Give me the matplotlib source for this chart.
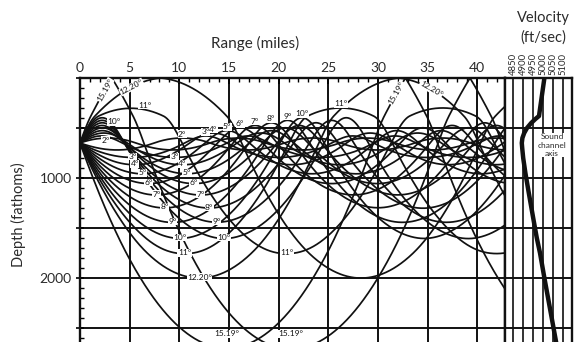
import numpy as np
import matplotlib.pyplot as plt

# Sound-speed profile: depth (fathoms) and speed (ft/sec)
profile_depth = [0, 380, 410, 450, 500, 550, 600, 650, 700, 800, 950, 1150, 1400, 1600, 1750, 2000, 2700, 3200]
profile_speed = [5007, 4980, 4962, 4941, 4920, 4906, 4897, 4894, 4896, 4901, 4912, 4929, 4951, 4969, 4985, 5007, 5071, 5116]

source_depth = 650
launch_angles = [2, 3, 4, 5, 6, 7, 8, 9, 10, 11, 12.20, 15.19]

range_ticks = [0, 5, 10, 15, 20, 25, 30, 35, 40]
depth_grid = [0, 500, 1000, 1500, 2000, 2500]
depth_labels = ["", "", "1000", "", "2000", ""]
velocity_ticks = [4850, 4900, 4950, 5000, 5050, 5100]

FATHOMS_PER_MILE = 1012.7   # nautical mile
X_MAX = 42.8
Y_MAX = 2640
INK = "#111111"
TXT = "#2b2b2b"

plt.rcParams["font.family"] = ["Lato", "DejaVu Sans"]


def angle_text(a):
    return "12.20°" if a == 12.20 else ("15.19°" if a == 15.19 else f"{a:g}°")


def trace(angles_deg, ds=8.0, max_range=44.0):
    """Trace rays through the layered profile; positive angles point down."""
    zn = np.array(profile_depth, float)
    cn = np.array(profile_speed, float)
    slope = np.diff(cn) / np.diff(zn)

    def speed(z):
        return np.interp(z, zn, cn)

    def grad(z):
        i = np.clip(np.searchsorted(zn, z) - 1, 0, len(slope) - 1)
        return slope[i]

    th = np.radians(np.asarray(angles_deg, float))
    c0 = speed(source_depth)
    xi = np.cos(th) / c0
    zeta = np.sin(th) / c0
    x = np.zeros_like(th)
    z = np.full_like(th, float(source_depth))
    xs, zs = [x.copy()], [z.copy()]
    while x.min() < max_range * FATHOMS_PER_MILE:
        c = speed(z)
        zm = z + 0.5 * ds * c * zeta
        zetam = zeta - 0.5 * ds * grad(z) / c ** 2
        cm = speed(zm)
        x = x + ds * cm * xi
        z = z + ds * cm * zetam
        zeta = zeta - ds * grad(zm) / cm ** 2
        # reflection at the sea surface
        hit = z < 0
        z[hit] = -z[hit]
        zeta[hit] = -zeta[hit]
        xs.append(x.copy())
        zs.append(z.copy())
    return np.array(xs).T / FATHOMS_PER_MILE, np.array(zs).T


def turns(z, lower=True):
    d = np.sign(np.diff(z))
    if lower:
        idx = np.where((d[:-1] > 0) & (d[1:] <= 0))[0]
    else:
        idx = np.where((d[:-1] < 0) & (d[1:] >= 0))[0]
    return idx + 1


up_x, up_z = trace([-a for a in launch_angles])
dn_x, dn_z = trace(launch_angles)

fig = plt.figure(figsize=(5.83, 3.42), dpi=100)
top = 1 - 78 / 342
ax = fig.add_axes([80 / 583, 0, 425 / 583, top])
axv = fig.add_axes([505 / 583, 0, 67 / 583, top])

for a in (ax, axv):
    a.set_ylim(Y_MAX, 0)
    for y in depth_grid[1:]:
        a.axhline(y, color=INK, lw=1.4, zorder=1)
    for s in ("top", "left", "right"):
        a.spines[s].set_linewidth(1.7)
        a.spines[s].set_color(INK)
    a.spines["bottom"].set_visible(False)

# ray panel
ax.set_xlim(0, X_MAX)
for xg in range_ticks[1:]:
    ax.axvline(xg, color=INK, lw=1.4, zorder=1)
for xm, zm in zip(up_x, up_z):
    ax.plot(xm, zm, color=INK, lw=1.25, zorder=2)
for xm, zm in zip(dn_x, dn_z):
    ax.plot(xm, zm, color=INK, lw=1.25, zorder=2)

ax.xaxis.tick_top()
ax.set_xticks(range_ticks)
ax.set_xticks(np.arange(0, 43, 1), minor=True)
ax.tick_params(axis="x", which="major", direction="in", length=4, width=1.2,
               labelsize=10, labelcolor=TXT, pad=3)
ax.tick_params(axis="x", which="minor", direction="in", length=3, width=1)
ax.set_yticks(depth_grid)
ax.set_yticklabels(depth_labels)
ax.set_yticks(np.arange(0, 2700, 100), minor=True)
ax.tick_params(axis="y", which="major", direction="inout", length=6, width=1.2,
               labelsize=10, labelcolor=TXT, pad=3)
ax.tick_params(axis="y", which="minor", direction="in", length=3, width=1)
ax.tick_params(bottom=False, labelbottom=False)

box = dict(facecolor="white", edgecolor="none", pad=0.3)
lab = dict(fontsize=6, color=INK, ha="center", zorder=4, bbox=box)


def slope_angle(xm, zm, i):
    p = ax.transData.transform(np.c_[xm[i - 3:i + 4:6], zm[i - 3:i + 4:6]])
    d = p[1] - p[0]
    return np.degrees(np.arctan2(d[1], d[0]))


def on_ray(xm, zm, a, i, rotate=True):
    rot = slope_angle(xm, zm, i) if rotate else 0
    ax.text(xm[i], zm[i], angle_text(a), va="center", rotation=rot,
            rotation_mode="anchor", **lab)


def crossing(xm, zm, depth, rising=True, after=0.0):
    d = np.diff(zm)
    ok = (d < 0) if rising else (d > 0)
    cand = np.where(ok & (xm[1:] > after) &
                    (np.sign(zm[:-1] - depth) != np.sign(zm[1:] - depth)))[0]
    return cand[0] + 1


for k, a in enumerate(launch_angles):
    # lower turning points of both launches
    for which, xs_, zs_ in (("dn", dn_x[k], dn_z[k]), ("up", up_x[k], up_z[k])):
        lo = turns(zs_, lower=True)
        if a >= 3 and len(lo) and not (a == 12.20 and which == "up"):
            i = lo[0]
            ax.text(xs_[i], min(zs_[i], 2570) - 10, angle_text(a), va="center", **lab)
    # upper turning points of the downward launch
    hi = turns(dn_z[k], lower=False)
    if a <= 11 and len(hi):
        i = hi[0]
        ax.text(dn_x[k][i], dn_z[k][i] - 5, angle_text(a), va="bottom", **lab)

# labels on the upward launches near the source
k2 = launch_angles.index(2)
i = np.searchsorted(up_x[k2], 2.6)
ax.text(up_x[k2][i], up_z[k2][i] + 20, "2°", va="center", **lab)
for a, dx in ((10, 1.2), (11, 1.4)):
    k = launch_angles.index(a)
    i0 = turns(up_z[k], lower=False)[0]
    i = np.searchsorted(up_x[k], up_x[k][i0] + dx)
    ax.text(up_x[k][i], up_z[k][i] - 10, angle_text(a), va="bottom", **lab)
for a, d in ((15.19, 120), (12.20, 90)):
    k = launch_angles.index(a)
    on_ray(up_x[k], up_z[k], a, crossing(up_x[k], up_z[k], d, rising=True))

# second surface approach of the steepest rays
k = launch_angles.index(15.19)
hits = turns(dn_z[k], lower=False)
on_ray(dn_x[k], dn_z[k], 15.19, crossing(dn_x[k], dn_z[k], 150, True, dn_x[k][hits[0]] - 3))
k = launch_angles.index(12.20)
hits = turns(dn_z[k], lower=False)
on_ray(dn_x[k], dn_z[k], 12.20, crossing(dn_x[k], dn_z[k], 110, False, dn_x[k][hits[0]]))

# velocity panel
axv.set_xlim(4810, 5145)
for v in velocity_ticks:
    axv.axvline(v, color=INK, lw=1.2, zorder=1)
axv.plot(profile_speed, profile_depth, color=INK, lw=3.2, zorder=3,
         solid_capstyle="butt")
axv.xaxis.tick_top()
axv.set_xticks(velocity_ticks)
axv.tick_params(axis="x", length=0, labelsize=6.8, labelrotation=90, labelcolor=TXT, pad=2)
axv.set_yticks([])
axv.text(5045, 670, "Sound\nchannel\naxis", fontsize=6, color=TXT, ha="center",
         va="center", linespacing=1.2, zorder=4, bbox=dict(facecolor="white", edgecolor="none", pad=0.2))

fig.text(255 / 583, 1 - 43 / 342, "Range (miles)", fontsize=11, color=TXT, ha="center", va="center")
fig.text(543 / 583, 1 - 18 / 342, "Velocity", fontsize=10.5, color=TXT, ha="center", va="center")
fig.text(543 / 583, 1 - 38 / 342, "(ft/sec)", fontsize=10.5, color=TXT, ha="center", va="center")
fig.text(18 / 583, 1 - 215 / 342, "Depth (fathoms)", fontsize=10.5, color=TXT, ha="center",
         va="center", rotation=90)

fig.savefig("out.png", dpi=100)
